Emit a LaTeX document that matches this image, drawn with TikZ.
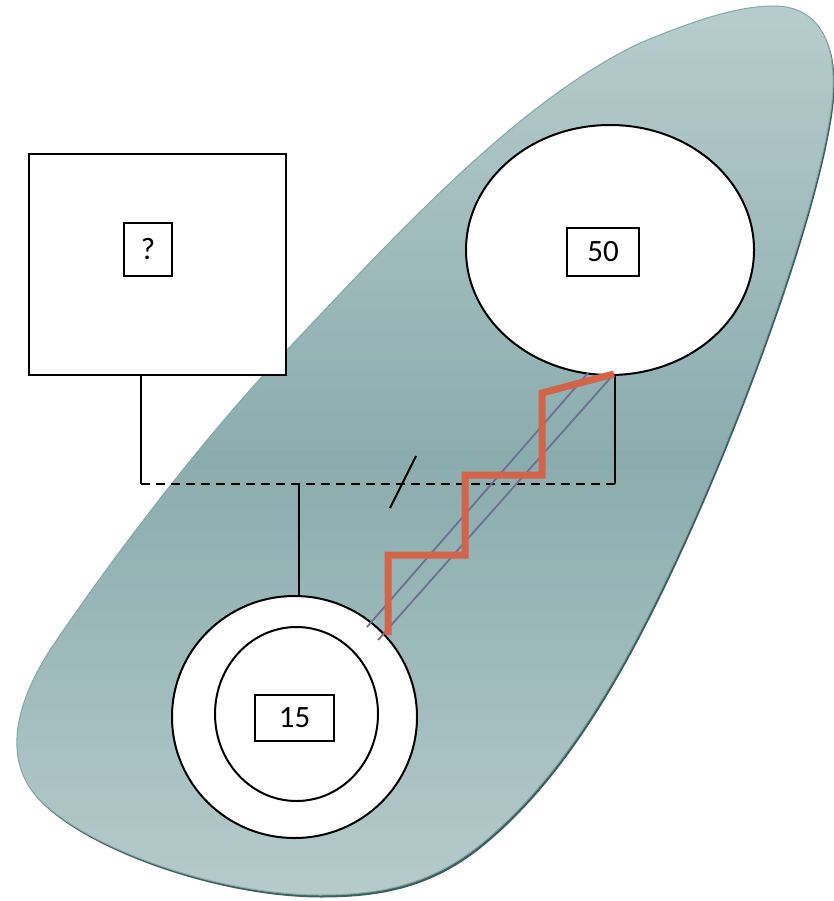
\documentclass[tikz,border=0pt]{standalone}
\usepackage{fontspec}
\setmainfont{Carlito}
\usetikzlibrary{shapes.geometric}
\definecolor{blobtop}{RGB}{182,203,204}
\definecolor{blobmid}{RGB}{139,172,173}
\definecolor{blobedge}{RGB}{62,94,95}
\definecolor{blobline}{RGB}{134,167,168}
\definecolor{conflictred}{RGB}{210,100,74}
\definecolor{tieblue}{RGB}{108,112,145}
\tikzset{person/.style={draw=black, fill=white, line width=2pt, inner sep=0pt, outer sep=0pt},
agebox/.style={draw=black, fill=white, line width=1.6pt, inner sep=0pt, font=\fontsize{31}{36}\selectfont},
%family lines
tie/.style={draw=black, line width=2pt},
conflict/.style={draw=conflictred, line width=7pt},
closeness/.style={draw=tieblue, line width=1.8pt}}
% outline of the household
\newcommand{\blobpath}{(640,43) .. controls (700,18) and (740,6) .. (774,6)
  .. controls (820,6) and (840,45) .. (831,110)
  .. controls (815,220) and (740,420) .. (680,550)
  .. controls (620,680) and (560,780) .. (480,845)
  .. controls (430,885) and (380,895) .. (320,895)
  .. controls (220,895) and (90,850) .. (40,800)
  .. controls (10,770) and (5,720) .. (50,650)
  .. controls (100,575) and (200,440) .. (287,350)
  .. controls (400,230) and (520,100) .. (640,43) -- cycle}

\begin{document}
\begin{tikzpicture}[x=1pt, y=-1pt]

    \useasboundingbox (0,0) rectangle (834,901);

    % household
    \fill[blobedge, transform canvas={shift={(1.5pt,-2.5pt)}}] \blobpath;
    \begin{scope}
      \clip \blobpath;
      \foreach \i in {0,...,90} {
        \pgfmathsetmacro\t{min(100,abs(\i*10+5-460)/440*100)}
        \fill[blobtop!\t!blobmid] (0,\i*10) rectangle (834,\i*10+10.6);
      }
    \end{scope}
    \draw[blobline, line width=1pt] \blobpath;

    \node[person, minimum width=257pt, minimum height=221pt] (father) at (157.5,264.5) {};
    \node[person, ellipse, minimum width=288pt, minimum height=250pt] (mother) at (610,250) {};
    \node[person, ellipse, minimum width=245pt, minimum height=242pt] (child) at (294.5,717) {};
    \node[person, ellipse, minimum width=163pt, minimum height=174pt] (childin) at (296.5,714) {};

    \node[agebox, minimum width=48pt, minimum height=53pt] (fatherage) at (148,249.5) {?};
    \node[agebox, minimum width=72pt, minimum height=48pt] (motherage) at (603,252) {50};
    \node[agebox, minimum width=79pt, minimum height=46pt] (childage) at (294.5,718) {15};

    \coordinate (fbar) at (141,484);
    \coordinate (mbar) at (615,484);
    \coordinate (cbar) at (299,484);

    \coordinate (slash1) at (390,508);
    \coordinate (slash2) at (416,456);

    \coordinate (zz0) at (388,635);
    \coordinate (zz1) at (388,555);
    \coordinate (zz2) at (465,555);
    \coordinate (zz3) at (465,475);
    \coordinate (zz4) at (542,475);
    \coordinate (zz5) at (542,393);
    \coordinate (zz6) at (614,374);

    \coordinate (cl1a) at (367,627);
    \coordinate (cl1b) at (588,373);
    \coordinate (cl2a) at (378,640);
    \coordinate (cl2b) at (613,375);

    \draw[tie] (fbar |- father.south) -- (fbar);
    \draw[tie] (mbar |- mother.south) -- (mbar);
    \draw[tie, dash pattern=on 9pt off 6pt] (fbar) -- (mbar);
    \draw[tie] (cbar) -- (cbar |- child.north);
    \draw[tie] (slash1) -- (slash2);

    \draw[closeness] (cl1a) -- (cl1b);
    \draw[closeness] (cl2a) -- (cl2b);

    \draw[conflict] (zz0) -- (zz1) -- (zz2) -- (zz3) -- (zz4) -- (zz5) -- (zz6);

  \end{tikzpicture}
\end{document}
